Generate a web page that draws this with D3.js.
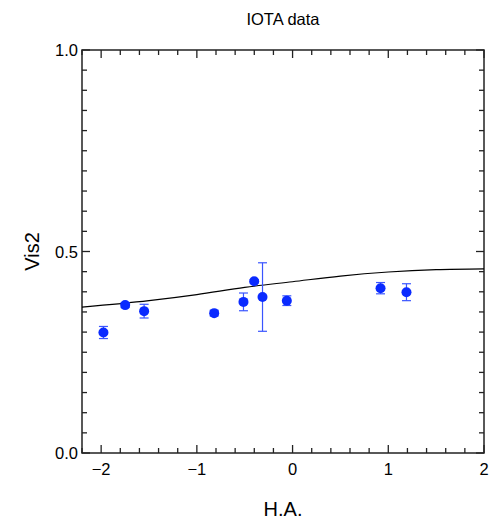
<!DOCTYPE html>
<html>
<head>
<meta charset="utf-8">
<script src="https://cdn.jsdelivr.net/npm/d3@7"></script>
<style>
body { margin: 0; background: #fff; }
text { font-family: "Liberation Sans", Arial, sans-serif; fill: #000; }
</style>
</head>
<body>
<div class="container"></div>
<script>
// observed points
var ha   = [-1.976, -1.749, -1.551, -0.819, -0.513, -0.401, -0.314, -0.060, 0.919, 1.190];
var vis2 = [0.299, 0.367, 0.352, 0.347, 0.375, 0.426, 0.387, 0.378, 0.409, 0.399];
var err  = [0.015, 0.006, 0.017, 0.007, 0.022, 0.004, 0.085, 0.012, 0.014, 0.021];

// model curve
var modelHa  = [-2.2, -1.5, -1.0, -0.5, 0.0, 0.5, 1.0, 1.5, 2.0];
var modelVis = [0.362, 0.378, 0.393, 0.411, 0.425, 0.439, 0.449, 0.455, 0.457];

var xTicks = [-2, -1, 0, 1, 2];
var yTicks = [0, 0.5, 1.0];

var W = 496, H = 523;
var pLeft = 82, pRight = 484, pTop = 50, pBottom = 453;

var svg = d3.select(".container").append("svg")
	.attr("width", W)
	.attr("height", H);

var x = d3.scaleLinear().domain([-2.2, 2]).range([pLeft, pRight]);
var y = d3.scaleLinear().domain([0, 1]).range([pBottom, pTop]);

// minor / major ticks, all pointing inward
function tickSet(lo, hi, step) {
	var out = [];
	for (var v = lo; v <= hi + 1e-9; v += step) out.push(+v.toFixed(3));
	return out;
}
var xMinor = tickSet(-2.2, 2, 0.2);
var yMinor = tickSet(0, 1, 0.05);

function isMajor(v, list) {
	return list.some(function(t) { return Math.abs(t - v) < 1e-6; });
}

var ax = svg.append("g").attr("stroke", "#222").attr("stroke-width", 1.3);

xMinor.forEach(function(v) {
	var len = isMajor(v, xTicks) ? 8 : 5;
	ax.append("line").attr("x1", x(v)).attr("x2", x(v)).attr("y1", pBottom).attr("y2", pBottom - len);
	ax.append("line").attr("x1", x(v)).attr("x2", x(v)).attr("y1", pTop).attr("y2", pTop + len);
});
yMinor.forEach(function(v) {
	var len = isMajor(v, yTicks) ? 8 : 5;
	ax.append("line").attr("x1", pLeft).attr("x2", pLeft + len).attr("y1", y(v)).attr("y2", y(v));
	ax.append("line").attr("x1", pRight).attr("x2", pRight - len).attr("y1", y(v)).attr("y2", y(v));
});

svg.append("rect")
	.attr("x", pLeft).attr("y", pTop)
	.attr("width", pRight - pLeft).attr("height", pBottom - pTop)
	.attr("fill", "none")
	.attr("stroke", "#222")
	.attr("stroke-width", 1.5);

// tick labels
svg.selectAll(".xl").data(xTicks).enter().append("text")
	.attr("x", function(d) { return x(d); })
	.attr("y", pBottom + 22)
	.attr("text-anchor", "middle")
	.style("font-size", "16.5px")
	.text(function(d) { return d < 0 ? "\u2212" + Math.abs(d) : d; });

svg.selectAll(".yl").data(yTicks).enter().append("text")
	.attr("x", pLeft - 4)
	.attr("y", function(d) { return y(d) + 6; })
	.attr("text-anchor", "end")
	.style("font-size", "16.5px")
	.text(function(d) { return d.toFixed(1); });

// titles
svg.append("text").attr("x", (pLeft + pRight) / 2).attr("y", 25)
	.attr("text-anchor", "middle").style("font-size", "16.5px").text("IOTA data");
svg.append("text").attr("x", (pLeft + pRight) / 2).attr("y", 516)
	.attr("text-anchor", "middle").style("font-size", "20px").text("H.A.");
svg.append("text")
	.attr("transform", "translate(39," + ((pTop + pBottom) / 2) + ") rotate(-90)")
	.attr("text-anchor", "middle").style("font-size", "20px").text("Vis2");

// model line
var model = modelHa.map(function(d, i) { return [d, modelVis[i]]; });
svg.append("path")
	.datum(model)
	.attr("fill", "none")
	.attr("stroke", "#000")
	.attr("stroke-width", 1.1)
	.attr("d", d3.line()
		.x(function(d) { return x(d[0]); })
		.y(function(d) { return y(d[1]); })
		.curve(d3.curveMonotoneX));

// error bars
var pts = ha.map(function(d, i) { return {h: d, v: vis2[i], e: err[i]}; });
var eb = svg.append("g").attr("stroke", "#3a55ff").attr("stroke-width", 1.2);
pts.forEach(function(p) {
	eb.append("line").attr("x1", x(p.h)).attr("x2", x(p.h)).attr("y1", y(p.v - p.e)).attr("y2", y(p.v + p.e));
	eb.append("line").attr("x1", x(p.h) - 4.5).attr("x2", x(p.h) + 4.5).attr("y1", y(p.v - p.e)).attr("y2", y(p.v - p.e));
	eb.append("line").attr("x1", x(p.h) - 4.5).attr("x2", x(p.h) + 4.5).attr("y1", y(p.v + p.e)).attr("y2", y(p.v + p.e));
});

svg.selectAll(".pt").data(pts).enter().append("circle")
	.attr("cx", function(d) { return x(d.h); })
	.attr("cy", function(d) { return y(d.v); })
	.attr("r", 5)
	.style("fill", "#0a2aff");
</script>
</body>
</html>
